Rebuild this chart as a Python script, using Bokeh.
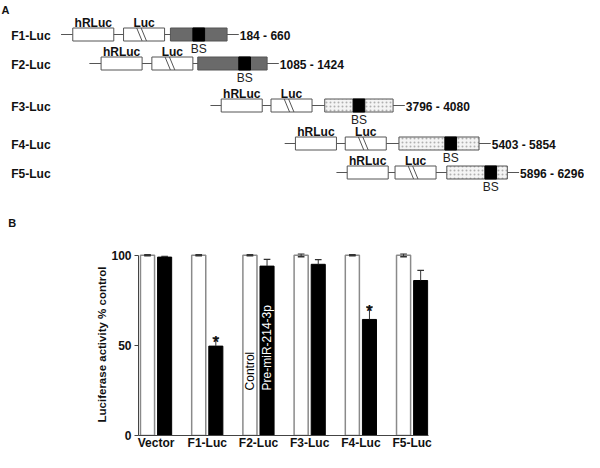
import numpy as np
from bokeh.plotting import figure
from bokeh.layouts import column, row
from bokeh.models import Range1d, FixedTicker
from bokeh.embed import file_html
from bokeh.resources import INLINE
from bokeh.core.properties import value

FONT = "Liberation Sans"

# ---------------- Panel A data (schematic of reporter constructs) ----------------
constructs = ["F1-Luc", "F2-Luc", "F3-Luc", "F4-Luc", "F5-Luc"]
fragments = ["184 - 660", "1085 - 1424", "3796 - 4080", "5403 - 5854", "5896 - 6296"]
insert_kind = ["grey", "grey", "dotted", "dotted", "dotted"]
row_y = [34, 63, 105, 143, 172]
line_start = [68, 97, 221, 297, 350]
hrluc_offset = [12, 12, 11, 11, 11]
luc_offset = [64, 64, 62, 62, 60]
insert_offset = [112, 111, 117, 117, 113]
insert_width = [58, 71, 70, 82, 62]
bs_offset = [23, 42, 29, 47, 39]

# ---------------- Panel B data (luciferase activity) ----------------
groups = ["Vector", "F1-Luc", "F2-Luc", "F3-Luc", "F4-Luc", "F5-Luc"]
series = ["Control", "Pre-miR-214-3p"]
control = [100, 100, 100, 100, 100, 100]
control_err = [0.3, 0.3, 0.3, 0.8, 0.3, 0.8]
premir = [99.0, 49.6, 94.0, 95.0, 64.4, 86.0]
premir_err = [0.4, 4.6, 3.7, 2.6, 7.0, 5.6]
significant = [False, True, False, False, True, False]
series_label_group = 2
y_ticks = [0, 50, 100]

# ---------------- Panel A figure ----------------
W = 584
HA = 233
pa = figure(width=W, height=HA, x_range=Range1d(6, 604), y_range=Range1d(HA, 0),
            output_backend="svg", toolbar_location=None, min_border=0)
pa.axis.visible = False
pa.grid.visible = False
pa.outline_line_color = None

BOX_H = 13
LW = 42
line_col = "#555555"
ry = np.array(row_y, dtype=float)
ls = np.array(line_start, dtype=float)
hr_l = ls + np.array(hrluc_offset)
lu_l = ls + np.array(luc_offset)
in_l = ls + np.array(insert_offset)
in_r = in_l + np.array(insert_width)
bs_l = in_l + np.array(bs_offset)
bs_r = bs_l + 12
tail_end = in_r + 12

pa.segment(x0=ls, y0=ry, x1=tail_end, y1=ry, line_color=line_col, line_width=1)
pa.quad(left=hr_l, right=hr_l + LW, top=ry - BOX_H / 2, bottom=ry + BOX_H / 2,
        fill_color="white", line_color=line_col, line_width=1)
pa.quad(left=lu_l, right=lu_l + LW, top=ry - BOX_H / 2, bottom=ry + BOX_H / 2,
        fill_color="white", line_color=line_col, line_width=1)
for a, b in [(13.5, 19.0), (18.0, 23.5)]:
    pa.segment(x0=lu_l + a, y0=ry - BOX_H / 2, x1=lu_l + b, y1=ry + BOX_H / 2,
               line_color=line_col, line_width=1)
grey = np.array([k == "grey" for k in insert_kind])
dot = ~grey
pa.quad(left=in_l[grey], right=in_r[grey], top=ry[grey] - BOX_H / 2, bottom=ry[grey] + BOX_H / 2,
        fill_color="#6a6a6a", line_color="#555555", line_width=1)
pa.quad(left=in_l[dot], right=in_r[dot], top=ry[dot] - BOX_H / 2, bottom=ry[dot] + BOX_H / 2,
        fill_color="#f4f4f4", hatch_pattern="dot", hatch_color="#b0b0b0", hatch_scale=4,
        hatch_weight=1, line_color=line_col, line_width=1)
pa.quad(left=bs_l, right=bs_r, top=ry - BOX_H / 2, bottom=ry + BOX_H / 2,
        fill_color="black", line_color="black", line_width=1)

bold = dict(text_font=value(FONT), text_font_style="bold", text_font_size="12px", text_color="#111111")
pa.text(x=[17] * len(constructs), y=ry + 1, text=constructs, text_align="left",
        text_baseline="middle", **bold)
pa.text(x=tail_end + 1, y=ry + 1, text=fragments, text_align="left", text_baseline="middle", **bold)
pa.text(x=hr_l + LW / 2, y=ry - 12, text=["hRLuc"] * len(constructs), text_align="center",
        text_baseline="middle", **bold)
pa.text(x=lu_l + LW / 2, y=ry - 12, text=["Luc"] * len(constructs), text_align="center",
        text_baseline="middle", **bold)
pa.text(x=(bs_l + bs_r) / 2, y=ry + 14, text=["BS"] * len(constructs), text_align="center",
        text_baseline="middle", text_font=value(FONT), text_font_size="12px", text_color="#222222")
pa.text(x=[7, 14], y=[9, 222], text=["A", "B"], text_align="left", text_baseline="middle",
        text_font=value(FONT), text_font_style="bold", text_font_size="11px", text_color="#111111")

# ---------------- Panel B figure ----------------
HB = 452 - HA
x = np.arange(len(groups), dtype=float)
off = 0.167
bw = 0.275
pb = figure(width=W, height=HB, x_range=Range1d(-0.343, 5.32), y_range=Range1d(0, 101),
            output_backend="svg", toolbar_location=None,
            min_border_left=138, min_border_right=W - 138 - 290, min_border_top=20,
            min_border_bottom=17)
pb.grid.visible = False
pb.outline_line_color = None

pb.vbar(x=x - off, top=control, width=bw, bottom=0, fill_color="white",
        line_color="#8a8a8a", line_width=1.5)
pb.vbar(x=x + off, top=premir, width=bw, bottom=0, fill_color="black",
        line_color="black", line_width=1)

c = np.array(control, dtype=float)
ce = np.array(control_err)
pm = np.array(premir)
pe = np.array(premir_err)
cap = 0.065
err_col = "#333333"
pb.segment(x0=x - off, y0=c - ce, x1=x - off, y1=c + ce, line_color=err_col, line_width=1)
pb.segment(x0=x - off - cap, y0=c + ce, x1=x - off + cap, y1=c + ce, line_color=err_col, line_width=1.5)
pb.segment(x0=x - off - cap, y0=c - ce, x1=x - off + cap, y1=c - ce, line_color=err_col, line_width=1.5)
pb.segment(x0=x + off, y0=pm, x1=x + off, y1=pm + pe, line_color=err_col, line_width=1)
pb.segment(x0=x + off - cap, y0=pm + pe, x1=x + off + cap, y1=pm + pe, line_color=err_col, line_width=1.2)

sig = np.array(significant)
pb.text(x=(x + off)[sig], y=(pm + pe)[sig] - 2.5, text=["*"] * int(sig.sum()), text_align="center",
        text_baseline="alphabetic", text_font=value(FONT), text_font_style="bold",
        text_font_size="16px", text_color="#111111")

g = series_label_group
pb.text(x=[x[g] - off, x[g] + off], y=[25, 25], text=series, angle=np.pi / 2,
        text_align="left", text_baseline="middle", text_color=["black", "white"],
        text_font=value(FONT), text_font_size="12px")

pb.yaxis.ticker = FixedTicker(ticks=y_ticks)
pb.yaxis.bounds = (0, 100)
pb.yaxis.minor_tick_line_color = None
pb.yaxis.major_tick_in = 0
pb.yaxis.major_tick_out = 4
pb.yaxis.major_label_standoff = 3
pb.yaxis.axis_label = "Luciferase activity % control"
pb.yaxis.axis_label_standoff = 0
pb.yaxis.axis_label_text_font = FONT
pb.yaxis.axis_label_text_font_style = "bold"
pb.yaxis.axis_label_text_font_size = "11.5px"
pb.yaxis.axis_label_text_color = "#111111"

pb.xaxis.ticker = FixedTicker(ticks=list(x))
pb.xaxis.major_label_overrides = {float(i): gname for i, gname in zip(x, groups)}
pb.xaxis.major_tick_in = 0
pb.xaxis.major_tick_out = 0
pb.xaxis.minor_tick_line_color = None
pb.xaxis.major_label_standoff = 0

for ax in (pb.xaxis, pb.yaxis):
    ax.axis_line_color = "#444444"
    ax.major_tick_line_color = "#444444"
    ax.major_label_text_font = FONT
    ax.major_label_text_font_style = "bold"
    ax.major_label_text_font_size = "12px"
    ax.major_label_text_color = "#111111"

layout = column(row(pa), row(pb))
open("out.html", "w").write(file_html(layout, INLINE))
